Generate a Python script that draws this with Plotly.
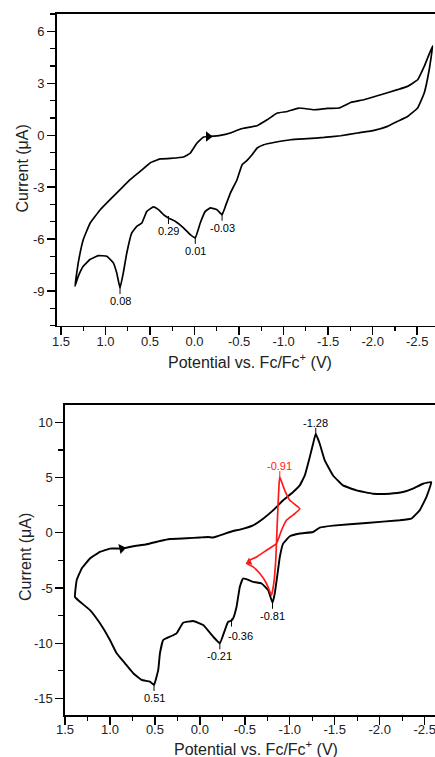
import plotly.graph_objects as go

# ---------------- data ----------------
# Top voltammogram
top_E = [1.343, 1.306, 1.250, 1.172, 1.059, 0.949, 0.836, 0.724, 0.611, 0.499,
         0.386, 0.274, 0.124, 0.048, -0.027, -0.101, -0.177, -0.289, -0.402, -0.515,
         -0.703, -0.815, -0.928, -1.041, -1.171, -1.340, -1.491, -1.622, -1.753, -1.903,
         -2.091, -2.279, -2.392, -2.505, -2.579, -2.673,
         -2.635, -2.579, -2.505, -2.392, -2.279, -2.167, -2.016, -1.829, -1.641, -1.453,
         -1.266, -1.078, -0.890, -0.777, -0.703, -0.646, -0.590, -0.534, -0.477, -0.402,
         -0.346, -0.309, -0.252, -0.177, -0.120, -0.064, -0.008, 0.048, 0.124, 0.218,
         0.293, 0.349, 0.405, 0.462, 0.536, 0.592, 0.649, 0.705, 0.761, 0.800,
         0.837, 0.874, 0.912, 0.986, 1.081, 1.175, 1.250, 1.306, 1.343]
top_I = [-8.72, -7.37, -6.03, -5.07, -4.30, -3.72, -3.14, -2.57, -2.09, -1.60,
         -1.37, -1.34, -1.26, -1.03, -0.45, -0.10, -0.07, -0.01, 0.13, 0.36,
         0.55, 0.89, 1.28, 1.37, 1.57, 1.47, 1.55, 1.57, 1.89, 2.05,
         2.34, 2.63, 2.82, 3.20, 3.97, 5.16,
         3.78, 2.44, 1.57, 1.08, 0.80, 0.51, 0.28, 0.13, -0.03, -0.13,
         -0.20, -0.26, -0.42, -0.55, -0.74, -1.13, -1.45, -1.70, -2.57, -3.34,
         -4.11, -4.59, -4.30, -4.20, -4.40, -5.07, -5.93, -5.74, -5.35, -4.97,
         -4.78, -4.59, -4.30, -4.14, -4.40, -5.07, -5.26, -5.64, -6.80, -7.95,
         -8.82, -7.95, -7.37, -6.99, -6.95, -7.18, -7.57, -8.15, -8.72]
top_arrow_E = [-0.154]
top_arrow_I = [-0.07]
top_peak_E = [0.837, 0.293, -0.008, -0.309]
top_peak_I = [-8.82, -4.78, -5.93, -4.59]
top_peak_text = ["0.08", "0.29", "0.01", "-0.03"]

# Bottom voltammogram (black, wide scan)
bot_E = [1.389, 1.370, 1.314, 1.222, 1.111, 1.0, 0.870, 0.741, 0.592, 0.444,
         0.333, 0.148, 0.0, -0.092, -0.148, -0.259, -0.370, -0.444, -0.592, -0.703,
         -0.814, -0.926, -1.037, -1.111, -1.167, -1.222, -1.259, -1.289, -1.333, -1.389,
         -1.481, -1.592, -1.741, -1.926, -2.111, -2.259, -2.370, -2.481, -2.574,
         -2.519, -2.444, -2.352, -2.222, -1.852, -1.481, -1.333, -1.259, -1.111, -1.0,
         -0.926, -0.889, -0.859, -0.833, -0.808, -0.759, -0.686, -0.592, -0.481, -0.444,
         -0.408, -0.370, -0.352, -0.314, -0.278, -0.222, -0.148, -0.037, 0.074, 0.186,
         0.259, 0.333, 0.408, 0.444, 0.463, 0.51, 0.556, 0.648, 0.741, 0.833,
         0.926, 1.0, 1.111, 1.222, 1.333, 1.389]
bot_I = [-5.80, -4.29, -3.23, -2.33, -1.73, -1.43, -1.43, -1.22, -1.04, -0.74,
         -0.56, -0.50, -0.43, -0.38, -0.43, -0.14, 0.16, 0.29, 0.68, 1.28,
         2.03, 2.94, 3.69, 4.29, 5.19, 6.85, 8.06, 8.96, 8.06, 6.55,
         5.19, 4.29, 3.84, 3.54, 3.54, 3.69, 3.99, 4.44, 4.59,
         3.23, 2.03, 1.28, 1.13, 0.89, 0.65, 0.47, 0.07, -0.07, -0.32,
         -0.98, -2.19, -3.99, -5.49, -6.34, -5.19, -4.59, -4.44, -4.14, -4.90,
         -6.70, -7.75, -7.95, -8.06, -8.81, -10.01, -9.41, -8.36, -7.99, -8.15,
         -9.11, -9.41, -9.71, -10.91, -12.42, -13.78, -13.48, -13.32, -12.72, -11.82,
         -10.91, -9.71, -8.20, -7.00, -6.25, -5.80]
bot_arrow_E = [0.870]
bot_arrow_I = [-1.43]
bot_peak_E = [0.51, -0.222, -0.352, -0.808, -1.289]
bot_peak_I = [-13.78, -10.01, -7.95, -6.34, 8.96]
bot_peak_text = ["0.51", "-0.21", "-0.36", "-0.81", "-1.28"]

# Bottom voltammogram (red, narrow scan)
red_E = [-0.889, -0.944, -1.0, -1.111, -1.056, -0.963, -0.908, -0.852, -0.741, -0.630,
         -0.556, -0.519, -0.592, -0.667, -0.741, -0.797, -0.822, -0.844, -0.859, -0.870,
         -0.881, -0.889]
red_I = [5.04, 3.84, 2.94, 2.19, 1.73, 1.13, 0.23, -0.98, -1.58, -2.19,
         -2.48, -2.78, -3.09, -3.69, -4.59, -5.65, -4.59, -2.48, 0.52, 2.64,
         4.44, 5.04]
red_arrow_E = [-0.548]
red_arrow_I = [-2.64]
red_peak_E = [-0.889]
red_peak_I = [5.04]
red_peak_text = ["-0.91"]

# tick labels
x_tickvals = [1.5, 1.0, 0.5, 0.0, -0.5, -1.0, -1.5, -2.0, -2.5]
x_ticktext = ["1.5", "1.0", "0.5", "0.0", "-0.5", "-1.0", "-1.5", "-2.0", "-2.5"]
top_y_tickvals = [6, 3, 0, -3, -6, -9]
top_y_ticktext = ["6", "3", "0", "-3", "-6", "-9"]
bot_y_tickvals = [10, 5, 0, -5, -10, -15]
bot_y_ticktext = ["10", "5", "0", "-5", "-10", "-15"]

# ---------------- figure ----------------
W, H = 435, 757
FONT = "Arial, Liberation Sans, sans-serif"
BLACK = "#000000"
TXT = "#222222"
RED = "#ff1a1a"

fig = go.Figure()

line_kw = dict(shape="spline", smoothing=0.3)

fig.add_trace(go.Scatter(x=top_E, y=top_I, mode="lines", xaxis="x", yaxis="y",
                         line=dict(color=BLACK, width=1.7, **line_kw), showlegend=False))
fig.add_trace(go.Scatter(x=top_arrow_E, y=top_arrow_I, mode="markers", xaxis="x", yaxis="y",
                         marker=dict(symbol="triangle-right", size=9, color=BLACK), showlegend=False))

fig.add_trace(go.Scatter(x=bot_E, y=bot_I, mode="lines", xaxis="x2", yaxis="y2",
                         line=dict(color=BLACK, width=1.9, **line_kw), showlegend=False))
fig.add_trace(go.Scatter(x=bot_arrow_E, y=bot_arrow_I, mode="markers", xaxis="x2", yaxis="y2",
                         marker=dict(symbol="triangle-right", size=9, color=BLACK, angle=-12),
                         showlegend=False))
fig.add_trace(go.Scatter(x=red_E, y=red_I, mode="lines", xaxis="x2", yaxis="y2",
                         line=dict(color=RED, width=1.7, **line_kw), showlegend=False))
fig.add_trace(go.Scatter(x=red_arrow_E, y=red_arrow_I, mode="markers", xaxis="x2", yaxis="y2",
                         marker=dict(symbol="triangle-left", size=7, color=RED, angle=-25),
                         showlegend=False))

annotations = []
shapes = []


def add_peaks(E, I, texts, xref, yref, color, default_dir):
    for e, i, t in zip(E, I, texts):
        d = default_dir
        if t in ("-1.28", "-0.91"):
            d = 1
        dx = 9 if t == "-0.36" else 0
        # short tick mark at the peak
        shapes.append(dict(type="line", xref=xref, yref=yref, xsizemode="pixel", ysizemode="pixel",
                           xanchor=e, yanchor=i, x0=0, x1=0, y0=-2 * d, y1=6 * d,
                           line=dict(color=color, width=1)))
        annotations.append(dict(x=e, y=i, xref=xref, yref=yref, text=t, showarrow=False,
                                xshift=dx, yshift=(11 if d > 0 else -13) + (-2 if t == "-0.36" else 0),
                                font=dict(family=FONT, size=11, color=color)))


add_peaks(top_peak_E, top_peak_I, top_peak_text, "x", "y", BLACK, -1)
add_peaks(bot_peak_E, bot_peak_I, bot_peak_text, "x2", "y2", BLACK, -1)
add_peaks(red_peak_E, red_peak_I, red_peak_text, "x2", "y2", RED, 1)

# axis titles as paper annotations (exact placement)
title_x = "Potential vs. Fc/Fc<sup>+</sup> (V)"
title_y = "Current (μA)"
title_font = dict(family=FONT, size=16, color=TXT)
for (px, py) in [(250, 361), (256, 748)]:
    annotations.append(dict(x=px / W, y=1 - py / H, xref="paper", yref="paper", text=title_x,
                            showarrow=False, xanchor="center", yanchor="middle", font=title_font))
for (px, py) in [(21.5, 169), (25, 557)]:
    annotations.append(dict(x=px / W, y=1 - py / H, xref="paper", yref="paper", text=title_y,
                            showarrow=False, xanchor="center", yanchor="middle", textangle=-90,
                            font=title_font))

axis_common = dict(showgrid=False, zeroline=False, showline=True, linecolor=BLACK, linewidth=1.6,
                   ticks="outside", ticklen=8, tickwidth=1.4, tickcolor=BLACK, automargin=False,
                   tickfont=dict(family=FONT, size=13, color=TXT))
minor_x = dict(dtick=0.25, ticklen=4, tickwidth=1.2, tickcolor=BLACK, ticks="outside", showgrid=False)

fig.update_layout(
    template="none",
    width=W, height=H,
    margin=dict(l=0, r=0, t=0, b=0, pad=0),
    paper_bgcolor="white", plot_bgcolor="white",
    showlegend=False,
    xaxis=dict(domain=[56.7 / W, 1.0], range=[1.548, -2.70], anchor="y",
               tickvals=x_tickvals, ticktext=x_ticktext, mirror=True, ticklabelstandoff=-5,
               ticklabeloverflow="allow", minor=minor_x, **axis_common),
    yaxis=dict(domain=[1 - 325.7 / H, 1 - 14 / H], range=[-11, 7], anchor="x",
               tickvals=top_y_tickvals, ticktext=top_y_ticktext,
               minor=dict(dtick=1, ticklen=5, tickwidth=1.2, tickcolor=BLACK, ticks="outside", showgrid=False),
               **axis_common),
    xaxis2=dict(domain=[65 / W, 1.0], range=[1.5, -2.615], anchor="y2",
                tickvals=x_tickvals, ticktext=x_ticktext, mirror=True, ticklabelstandoff=-6,
                ticklabeloverflow="allow", minor=minor_x, **axis_common),
    yaxis2=dict(domain=[1 - 715 / H, 1 - 405 / H], range=[-16.5, 11.57], anchor="x2",
                tickvals=bot_y_tickvals, ticktext=bot_y_ticktext,
                minor=dict(dtick=2.5, ticklen=5, tickwidth=1.2, tickcolor=BLACK, ticks="outside", showgrid=False),
                **axis_common),
    annotations=annotations,
    shapes=shapes,
    hovermode=False,
)

fig.write_html("out.html",
               config={"displayModeBar": False, "staticPlot": True},
               post_script="document.body.style.margin='0';document.body.style.padding='0';"
                           "document.body.style.overflow='hidden';")
